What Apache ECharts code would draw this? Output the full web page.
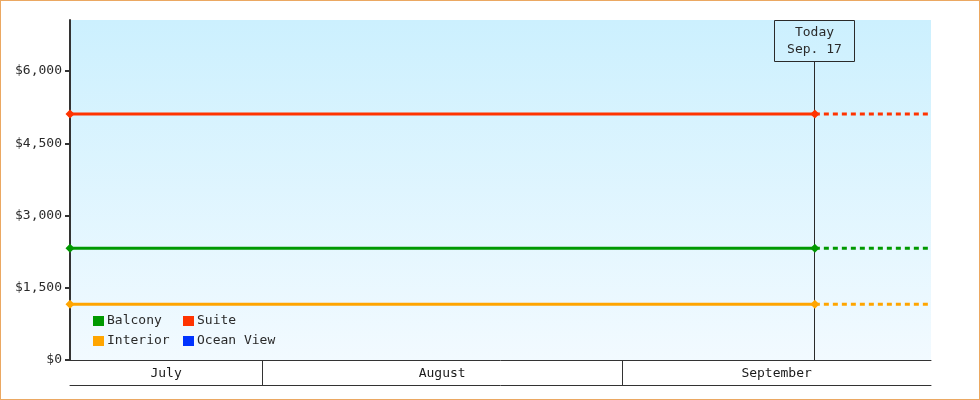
<!DOCTYPE html>
<html><head><meta charset="utf-8">
<script src="https://cdn.jsdelivr.net/npm/echarts@6/dist/echarts.min.js"></script>
<style>
html,body{margin:0;padding:0;background:#fff}
#wrap{position:relative;width:980px;height:400px}
#c{width:980px;height:400px}
#f{position:absolute;left:0;top:0;width:980px;height:400px;box-sizing:border-box;border:1px solid #eba862;pointer-events:none}
</style>
</head><body>
<div id="wrap"><div id="c"></div><div id="f"></div></div>
<script>
// ---- data ----
const categories = ['Balcony', 'Suite', 'Interior', 'Ocean View'];
const prices = [2320, 5110, 1158, null];
const rangeStart = '2014-07-15T11:00:00';
const today = '2014-09-17T14:00:00';
const rangeEnd = '2014-09-27T14:00:00';
const todayLabel = ['Today', 'Sep. 17'];
const monthNames = ['July', 'August', 'September'];
const monthStarts = ['2014-07-01T00:00:00', '2014-08-01T00:00:00', '2014-09-01T00:00:00', '2014-10-01T00:00:00'];
const yTicks = [0, 1500, 3000, 4500, 6000];
const yMax = 7060;

// ---- styles ----
const colors = ['#009900', '#ff3300', '#ffa500', '#0033ff'];
const FONT = 'DejaVu Sans Mono';
const INK = '#2a2a2a';

const t = s => new Date(s).getTime();

const series = [];
categories.forEach((name, i) => {
  const p = prices[i];
  if (p == null) {
    series.push({ name, type: 'line', data: [], itemStyle: { color: colors[i] }, lineStyle: { color: colors[i] } });
    return;
  }
  series.push({
    name, type: 'line', xAxisIndex: 0, yAxisIndex: 0,
    data: [[rangeStart, p], [today, p]],
    symbol: 'diamond', symbolSize: 9, showSymbol: true,
    itemStyle: { color: colors[i] },
    lineStyle: { color: colors[i], width: 3 },
    z: 3
  });
  series.push({
    name, type: 'line', xAxisIndex: 0, yAxisIndex: 0,
    data: [[today, p], [rangeEnd, p]],
    symbol: 'none',
    itemStyle: { color: colors[i] },
    lineStyle: { color: colors[i], width: 3, type: [5, 4] },
    z: 3
  });
});

series.push({
  type: 'custom', xAxisIndex: 0, yAxisIndex: 0, z: 1,
  data: [[today, 0]],
  renderItem: (params, api) => {
    const cs = params.coordSys;
    const p = api.coord([api.value(0), 0]);
    const x = Math.round(p[0]) - 0.5;
    const boxW = 80, boxH = 41;
    return {
      type: 'group', children: [
        { type: 'line', shape: { x1: x, y1: cs.y + boxH, x2: x, y2: cs.y + cs.height }, style: { stroke: INK, lineWidth: 1 } },
        { type: 'rect', shape: { x: Math.floor(x) - boxW / 2 + 0.5, y: cs.y + 0.5, width: boxW, height: boxH }, style: { fill: 'rgba(0,0,0,0)', stroke: INK, lineWidth: 1 } },
        { type: 'text', style: { text: todayLabel.join('\n'), x: x, y: cs.y + boxH / 2 + 1, align: 'center', verticalAlign: 'middle', fontFamily: FONT, fontSize: 13, lineHeight: 17, fill: INK } }
      ]
    };
  }
});

series.push({
  type: 'custom', xAxisIndex: 1, yAxisIndex: 1, z: 1,
  data: monthNames.map((m, i) => [monthStarts[i], monthStarts[i + 1]]),
  encode: { x: [0, 1] },
  renderItem: (params, api) => {
    const cs = params.coordSys;
    const a = api.coord([api.value(0), 0])[0];
    const b = api.coord([api.value(1), 0])[0];
    const l = Math.max(a, cs.x), r = Math.min(b, cs.x + cs.width);
    const children = [
      { type: 'text', style: { text: monthNames[params.dataIndex], x: (l + r) / 2, y: cs.y + cs.height / 2 + 1, align: 'center', verticalAlign: 'middle', fontFamily: FONT, fontSize: 13, fill: '#1a1a1a' } }
    ];
    if (a > cs.x + 0.5) {
      const x = Math.round(a) + 0.5;
      children.push({ type: 'line', shape: { x1: x, y1: cs.y, x2: x, y2: cs.y + cs.height }, style: { stroke: '#333', lineWidth: 1 } });
    }
    return { type: 'group', children };
  }
});

const legendBase = {
  orient: 'vertical', top: 313, padding: 0,
  icon: 'rect', itemWidth: 11, itemHeight: 10, itemGap: 4, selectedMode: false,
  itemStyle: { borderWidth: 0 },
  textStyle: { fontFamily: FONT, fontSize: 13, color: INK, lineHeight: 14, padding: [2, 0, 0, -2] }
};

const chart = echarts.init(document.getElementById('c'));
chart.setOption({
  animation: false,
  grid: [
    { left: 70, right: 49, top: 20, bottom: 40, show: true, borderWidth: 0,
      backgroundColor: { type: 'linear', x: 0, y: 0, x2: 0, y2: 1, colorStops: [{ offset: 0, color: '#ccf0fe' }, { offset: 1, color: '#f2faff' }] } },
    { left: 70, right: 49, top: 360, height: 25 }
  ],
  legend: [
    Object.assign({}, legendBase, { left: 93, data: [categories[0], categories[2]] }),
    Object.assign({}, legendBase, { left: 183, data: [categories[1], categories[3]] })
  ],
  xAxis: [
    { type: 'time', gridIndex: 0, min: t(rangeStart), max: t(rangeEnd),
      axisLine: { show: true, lineStyle: { color: '#333', width: 1 } },
      axisTick: { show: false }, axisLabel: { show: false }, splitLine: { show: false } },
    { type: 'time', gridIndex: 1, min: t(rangeStart), max: t(rangeEnd), position: 'bottom',
      axisLine: { show: true, lineStyle: { color: '#333', width: 1 } },
      axisTick: { show: false }, axisLabel: { show: false }, splitLine: { show: false } }
  ],
  yAxis: [
    { type: 'value', gridIndex: 0, min: 0, max: yMax,
      axisLine: { show: true, lineStyle: { color: '#333', width: 2 } },
      axisTick: { show: true, length: 5, lineStyle: { color: '#333', width: 2 }, customValues: yTicks },
      axisLabel: { customValues: yTicks, margin: 8, fontFamily: FONT, fontSize: 13, color: INK,
        formatter: v => '$' + Number(v).toLocaleString('en-US') },
      splitLine: { show: false } },
    { type: 'value', gridIndex: 1, min: 0, max: 1, show: false }
  ],
  series
});
</script>
</body></html>
